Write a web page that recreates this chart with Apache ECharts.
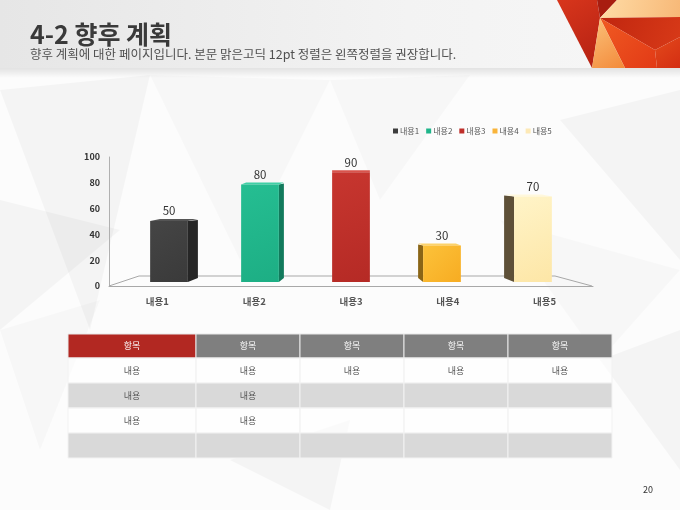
<!DOCTYPE html>
<html>
<head>
<meta charset="utf-8">
<script src="https://cdn.jsdelivr.net/npm/echarts@6/dist/echarts.min.js"></script>
<style>
	html, body { margin: 0; padding: 0; background: #fff; }
	#main { width: 680px; height: 510px; }
</style>
</head>
<body>
<div id="main"></div>
<script>
// 데이터
var categories = ['내용1', '내용2', '내용3', '내용4', '내용5'];
var values = [50, 80, 90, 30, 70];
var yMax = 100, yStep = 20;
var tableHead = ['항목', '항목', '항목', '항목', '항목'];
var tableRows = [
	['내용', '내용', '내용', '내용', '내용'],
	['내용', '내용', '', '', ''],
	['내용', '내용', '', '', ''],
	['', '', '', '', '']
];

// 스타일
var FONT = '"Noto Sans CJK KR", "Noto Sans", sans-serif';
var frontColors = [
	['#454545', '#3a3a3a'],
	['#25be92', '#1dae84'],
	['#c7362f', '#b52a25'],
	['#fcc23a', '#f7ac22'],
	['#fff4c8', '#fde6a6']
];
var legendColors = ['#3d3d3d', '#1fb58a', '#bf2f2a', '#f9b43a', '#fde9b6'];
var sideColors = ['#262626', '#127a5c', '#8e1d18', '#8a6516', '#5e5038'];
var topColors = ['#555555', '#3fd0a6', '#d9544c', '#fcd26a', '#fff8dc'];

var myChart = echarts.init(document.getElementById('main'));

function renderBar(params, api) {
	var i = api.value(0);
	var idx = params.seriesIndex;
	var cs = params.coordSys;
	var vc = cs.x + cs.width / 2; // 소실점
	var top = api.coord([i, api.value(1)]);
	var base = api.coord([i, 0]);
	var bw = api.size([1, 0])[0] * 0.39;
	var cx = top[0] + (vc - top[0]) * 0.06;
	var dx = (vc - cx) * 0.055;
	var x0 = cx - bw / 2, x1 = cx + bw / 2;
	var ex = dx > 0 ? x1 : x0;
	var children = [];
	if (Math.abs(dx) > 1) {
		children.push({
			type: 'polygon',
			shape: { points: [[ex, top[1]], [ex + dx, top[1] - 1], [ex + dx, base[1] - 4], [ex, base[1]]] },
			style: { fill: sideColors[idx] }
		});
	}
	children.push({
		type: 'polygon',
		shape: { points: [[x0, top[1]], [x1, top[1]], [x1 + dx, top[1] - 2], [x0 + dx, top[1] - 2]] },
		style: { fill: topColors[idx] }
	});
	children.push({
		type: 'rect',
		shape: { x: x0, y: top[1], width: bw, height: base[1] - top[1] },
		style: {
			fill: new echarts.graphic.LinearGradient(0, 0, 1, 1, [
				{ offset: 0, color: frontColors[idx][0] },
				{ offset: 1, color: frontColors[idx][1] }
			])
		}
	});
	children.push({
		type: 'text',
		style: {
			x: cx, y: top[1] - 10, text: String(api.value(1)),
			fill: '#333', font: '11.5px ' + FONT, align: 'center', verticalAlign: 'middle'
		}
	});
	return { type: 'group', children: children };
}

var series = categories.map(function (name, i) {
	return {
		name: name,
		type: 'custom',
		xAxisIndex: 1,
		yAxisIndex: 1,
		itemStyle: { color: legendColors[i] },
		renderItem: renderBar,
		data: [[i, values[i]]],
		z: 5
	};
});

// 표
var tblLeft = 68, tblTop = 334, colW = [128, 104, 104, 104, 104], headH = 24, rowH = 25;
var graphics = [];

// 배경 다각형 (아주 옅게)
var bgPolys = [
	[[0, 90], [150, 75], [90, 330]],
	[[150, 75], [330, 80], [240, 260]],
	[[0, 200], [120, 230], [0, 330]],
	[[330, 80], [470, 75], [380, 200]],
	[[560, 120], [680, 90], [680, 260]],
	[[500, 220], [680, 270], [600, 360]],
	[[230, 460], [350, 420], [330, 510]],
	[[0, 330], [100, 300], [40, 450]],
	[[600, 360], [680, 330], [680, 470]]
];
bgPolys.forEach(function (p, k) {
	graphics.push({
		type: 'polygon', z: -10, silent: true,
		shape: { points: p },
		style: { fill: 'rgba(0,0,0,' + (k % 2 ? 0.02 : 0.03) + ')' }
	});
});

// 헤더 띠
graphics.push({
	type: 'rect', z: -5, shape: { x: 0, y: 0, width: 680, height: 68 },
	style: { fill: new echarts.graphic.LinearGradient(0, 0, 1, 0, [
		{ offset: 0, color: '#e6e6e6' }, { offset: 0.6, color: '#f3f3f3' }, { offset: 1, color: '#f7f7f7' }
	]) }
});
graphics.push({
	type: 'rect', z: -5, shape: { x: 0, y: 68, width: 680, height: 10 },
	style: { fill: new echarts.graphic.LinearGradient(0, 0, 0, 1, [
		{ offset: 0, color: 'rgba(0,0,0,0.10)' }, { offset: 1, color: 'rgba(0,0,0,0)' }
	]) }
});
// 오른쪽 위 장식
var deco = [
	{ p: [[557, 0], [597, 0], [600, 18], [592, 68]], c: ['#d8361c', '#b32012'] },
	{ p: [[597, 0], [617, 0], [600, 18]], c: ['#a81d10', '#a81d10'] },
	{ p: [[617, 0], [680, 0], [680, 17], [600, 18]], c: ['#ffdca6', '#f7b877'] },
	{ p: [[600, 18], [680, 17], [680, 37], [655, 50]], c: ['#c0260f', '#d83a18'] },
	{ p: [[600, 18], [655, 50], [657, 68], [625, 68]], c: ['#f05a22', '#e23a16'] },
	{ p: [[600, 18], [625, 68], [592, 68]], c: ['#fbc27a', '#f38a3a'] },
	{ p: [[655, 50], [680, 37], [680, 68], [657, 68]], c: ['#e34a1c', '#d42e12'] }
];
deco.forEach(function (d) {
	graphics.push({
		type: 'polygon', z: -4, shape: { points: d.p },
		style: { fill: new echarts.graphic.LinearGradient(0, 0, 1, 1, [
			{ offset: 0, color: d.c[0] }, { offset: 1, color: d.c[1] }
		]) }
	});
});

// 제목
graphics.push({
	type: 'text', left: 30, top: 22,
	style: { text: '4-2 향후 계획', fill: '#3a3a3a', font: 'bold 25px ' + FONT }
});
graphics.push({
	type: 'text', left: 30, top: 48,
	style: { text: '향후 계획에 대한 페이지입니다. 본문 맑은고딕 12pt 정렬은 왼쪽정렬을 권장합니다.', fill: '#505050', font: '12.5px ' + FONT }
});

// 3D 바닥
graphics.push({
	type: 'polyline', z: 1,
	shape: { points: [[109, 286], [139, 276], [555, 276], [592, 286]] },
	style: { stroke: '#a8a8a8', lineWidth: 1, fill: null }
});

// 표 그리기
var x = tblLeft;
colW.forEach(function (w, c) {
	graphics.push({
		type: 'rect', z: 2, shape: { x: x, y: tblTop, width: w, height: headH },
		style: { fill: c === 0 ? '#b22822' : '#7f7f7f', stroke: '#e8e8e8', lineWidth: 1 }
	});
	graphics.push({
		type: 'text', z: 3,
		style: { x: x + w / 2, y: tblTop + headH / 2, text: tableHead[c], fill: '#fff', font: '9px ' + FONT, align: 'center', verticalAlign: 'middle' }
	});
	tableRows.forEach(function (row, r) {
		var y = tblTop + headH + r * rowH;
		graphics.push({
			type: 'rect', z: 2, shape: { x: x, y: y, width: w, height: rowH },
			style: { fill: r % 2 ? '#d9d9d9' : 'rgba(255,255,255,0.55)', stroke: '#f2f2f2', lineWidth: 1 }
		});
		if (row[c]) {
			graphics.push({
				type: 'text', z: 3,
				style: { x: x + w / 2, y: y + rowH / 2, text: row[c], fill: '#555', font: '9px ' + FONT, align: 'center', verticalAlign: 'middle' }
			});
		}
	});
	x += w;
});

// 쪽 번호
graphics.push({
	type: 'text', left: 643, top: 485,
	style: { text: '20', fill: '#333', font: '9px ' + FONT }
});

var option = {
	backgroundColor: '#fcfcfc',
	textStyle: { fontFamily: FONT },
	legend: {
		data: categories,
		left: 388,
		top: 122,
		itemWidth: 5,
		itemHeight: 5,
		itemGap: 7,
		icon: 'rect',
		textStyle: { color: '#555', fontSize: 8, padding: [0, 0, 0, -3] }
	},
	grid: [
		{ left: 109, right: 87, top: 157, bottom: 224 },
		{ left: 109, right: 87, top: 160, bottom: 228 }
	],
	xAxis: [{
		gridIndex: 0,
		type: 'category',
		data: categories,
		axisLine: { lineStyle: { color: '#a8a8a8' } },
		axisTick: { show: false },
		axisLabel: { color: '#555', fontSize: 9.5, fontWeight: 'bold', margin: 11 }
	}, {
		gridIndex: 1,
		type: 'category',
		data: categories,
		show: false
	}],
	yAxis: [{
		gridIndex: 0,
		type: 'value',
		min: 0,
		max: yMax,
		interval: yStep,
		axisLine: { show: true, lineStyle: { color: '#b0b0b0' } },
		axisTick: { show: false },
		splitLine: { show: false },
		axisLabel: { color: '#333', fontSize: 9, fontWeight: 'bold', margin: 9 }
	}, {
		gridIndex: 1,
		type: 'value',
		min: 0,
		max: yMax,
		show: false
	}],
	graphic: graphics,
	series: series
};
myChart.setOption(option);
</script>
</body>
</html>
